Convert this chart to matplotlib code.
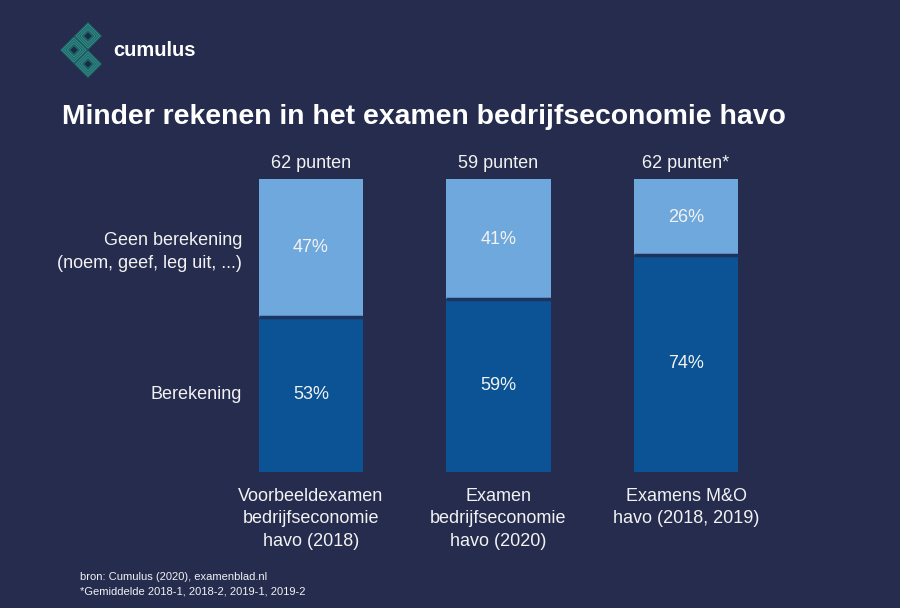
import matplotlib.pyplot as plt
from matplotlib.patches import Polygon

# data
categories = ["Voorbeeldexamen\nbedrijfseconomie\nhavo (2018)",
              "Examen\nbedrijfseconomie\nhavo (2020)",
              "Examens M&O\nhavo (2018, 2019)"]
berekening = [53, 59, 74]
geen_berekening = [47, 41, 26]
punten = ["62 punten", "59 punten", "62 punten*"]
series_labels = ["Berekening", "Geen berekening\n(noem, geef, leg uit, ...)"]

bg = "#252c4e"
light = "#6fa8dc"
dark = "#0b5394"
txt = "#f2f2f2"

plt.rcParams['font.family'] = ['Liberation Sans', 'DejaVu Sans']

W, H = 900, 608
fig = plt.figure(figsize=(9, 6.08), dpi=100, facecolor=bg)

# overlay in pixel coordinates for titles, logo, notes
ov = fig.add_axes([0, 0, 1, 1])
ov.set_xlim(0, W)
ov.set_ylim(H, 0)
ov.axis("off")
ov.set_facecolor(bg)

# chart axes, mapped so bars land where they do in the slide
ax = fig.add_axes([0, 0, 1, 1])
ax.patch.set_alpha(0)
ax.axis("off")
step = 187.5
x0 = 311.0
ax.set_xlim(-x0 / step, (W - x0) / step)
ypx = 2.93  # pixels per percent
ax.set_ylim(-(H - 472) / ypx, 100 + 179 / ypx)

fs = 13
ls = 1.42
xs = range(len(categories))
width = 0.555
ax.bar(xs, berekening, width=width, color=dark)
ax.bar(xs, geen_berekening, width=width, bottom=berekening, color=light)
for i in xs:
    ax.hlines(berekening[i], i - width / 2, i + width / 2, color="#1d3462", lw=2.5)
    ax.text(i, berekening[i] / 2, f"{berekening[i]}%", ha="center", va="center",
            color=txt, fontsize=fs)
    ax.text(i, berekening[i] + geen_berekening[i] / 2, f"{geen_berekening[i]}%",
            ha="center", va="center", color=txt, fontsize=fs)
    ax.text(i, 100 + 16 / ypx, punten[i], ha="center", va="center", color=txt, fontsize=fs)
    ax.text(i, -16 / ypx, categories[i], ha="center", va="top", color=txt,
            fontsize=fs, linespacing=ls)

# series labels on the left
lx = -(x0 - 242) / step
ax.text(lx, berekening[0] / 2, series_labels[0], ha="right", va="center",
        color=txt, fontsize=fs)
ax.text(lx, berekening[0] + geen_berekening[0] / 2 - 4 / ypx, series_labels[1], ha="right",
        va="center", color=txt, fontsize=fs, linespacing=ls)

# title
ov.text(62, 117, "Minder rekenen in het examen bedrijfseconomie havo",
        ha="left", va="center", color="white", fontsize=20.4, fontweight="bold")

# logo
def diamond(cx, cy, r):
    return [(cx, cy - r), (cx + r, cy), (cx, cy + r), (cx - r, cy)]

for cx, cy in [(88, 36), (74, 50), (88, 64)]:
    ov.add_patch(Polygon(diamond(cx, cy, 14), closed=True, fc="#1e6265", ec="none"))
    for r in [12, 9.5, 7]:
        ov.add_patch(Polygon(diamond(cx, cy, r), closed=True, fc="none",
                             ec="#33908c", lw=0.6))
    ov.add_patch(Polygon(diamond(cx, cy, 3.5), closed=True, fc="#1b2a45", ec="none"))
ov.text(113, 50, "cumulus", ha="left", va="center", color="white",
        fontsize=14.5, fontweight="bold")

# footnotes
ov.text(80, 577, "bron: Cumulus (2020), examenblad.nl", ha="left", va="center",
        color=txt, fontsize=8)
ov.text(80, 591, "*Gemiddelde 2018-1, 2018-2, 2019-1, 2019-2", ha="left", va="center",
        color=txt, fontsize=8)

fig.savefig("out.png", dpi=100, facecolor=bg)
